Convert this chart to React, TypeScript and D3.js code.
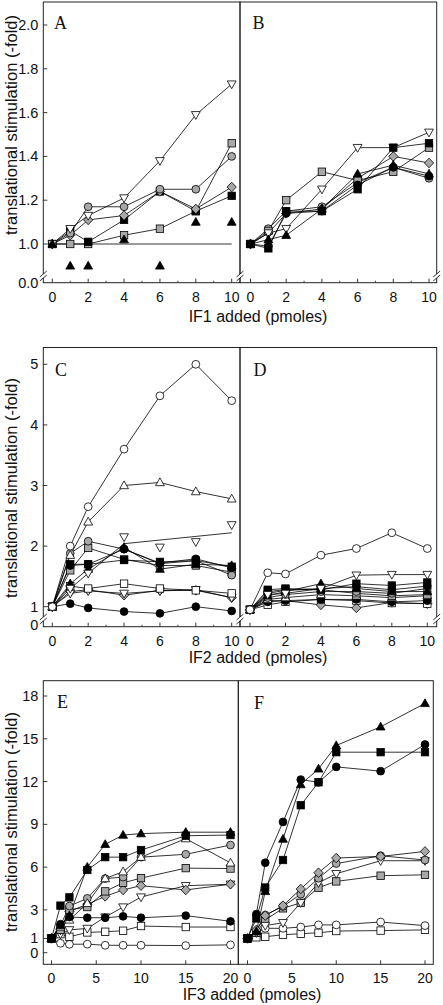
import React from 'react';
import * as d3 from 'd3';

// ---------- DATA ----------
const xIF12 = [0, 1, 2, 4, 6, 8, 10];
const xIF3 = [0, 1, 2, 4, 6, 8, 10, 15, 20];

const ticksIF12 = [0, 2, 4, 6, 8, 10];
const ticksIF3 = [0, 5, 10, 15, 20];
const yTicksRow1 = [1.0, 1.2, 1.4, 1.6, 1.8, 2.0];
const yTicksRow2 = [1, 2, 3, 4, 5];
const yTicksRow3 = [0, 1, 3, 6, 9, 12, 15, 18];

// Panel A (IF1)
const aInvTriW = [1.0, 1.07, 1.13, 1.21, 1.38, 1.59, 1.73];
const aCircG = [1.0, 1.05, 1.17, 1.17, 1.25, 1.25, 1.40];
const aDiaG = [1.0, 1.04, 1.11, 1.13, 1.24, 1.16, 1.26];
const aSqB = [1.0, 1.06, 1.01, 1.11, 1.24, 1.15, 1.22];
const aSqG = [1.0, 1.0, 1.0, 1.04, 1.07, 1.15, 1.46];
const aTriB = [1.0, 0.9, 0.9, 1.02, 0.9, 1.10, 1.10];
const aBaseline = [1.0, 1.0];
const aBaselineX = [0, 10];

// Panel B (IF1)
const bInvTriW = [1.0, 1.05, 1.07, 1.25, 1.44, 1.44, 1.51];
const bSqG = [1.0, 1.06, 1.20, 1.33, 1.29, 1.33, 1.44];
const bSqB = [1.0, 0.98, 1.15, 1.15, 1.25, 1.44, 1.46];
const bDiaG = [1.0, 1.05, 1.14, 1.16, 1.30, 1.40, 1.37];
const bCircG = [1.0, 1.07, 1.15, 1.17, 1.28, 1.35, 1.30];
const bCircB = [1.0, 0.99, 1.14, 1.15, 1.27, 1.35, 1.31];
const bTriB = [1.0, 1.02, 1.04, 1.16, 1.32, 1.36, 1.32];

// Panel C (IF2)
const cCircW = [1, 2.0, 2.65, 3.6, 4.48, 5.0, 4.4];
const cTriW = [1, 1.85, 2.4, 3.0, 3.05, 2.9, 2.78];
const cInvTriW = [1, 1.3, 1.55, 2.15, 1.98, 2.07, 2.35];
const cInvTriLineX = [0, 1, 2, 4, 10];
const cInvTriLineY = [1, 1.3, 1.55, 2.04, 2.22];
const cCircG = [1, 1.88, 2.08, 1.95, 1.71, 1.76, 1.52];
const cSqG = [1, 1.6, 1.97, 1.78, 1.68, 1.68, 1.57];
const cSqB = [1, 1.7, 1.7, 1.77, 1.74, 1.76, 1.66];
const cCircB1 = [1, 1.68, 1.7, 1.95, 1.72, 1.79, 1.64];
const cTriB = [1, 1.38, 1.62, 1.98, 1.62, 1.7, 1.68];
const cSqW = [1, 1.34, 1.3, 1.38, 1.3, 1.27, 1.22];
const cDiaG = [1, 1.25, 1.28, 1.19, 1.27, 1.27, 1.15];
const cInvTriW2 = [1, 1.22, 1.26, 1.22, 1.26, 1.28, 1.15];
const cCircB2 = [1, 1.05, 0.98, 0.92, 0.89, 1.0, 0.93];

// Panel D (IF2)
const dCircW = [0.95, 1.56, 1.54, 1.85, 1.96, 2.22, 1.96];
const dInvTriW = [0.95, 1.2, 1.22, 1.3, 1.52, 1.53, 1.53];
const dSqB = [0.95, 1.28, 1.3, 1.28, 1.38, 1.35, 1.4];
const dCircB = [0.95, 1.22, 1.27, 1.3, 1.33, 1.28, 1.34];
const dTriB = [0.95, 1.18, 1.25, 1.38, 1.3, 1.25, 1.25];
const dCircG = [0.95, 1.15, 1.2, 1.25, 1.25, 1.22, 1.3];
const dSqG = [0.95, 1.25, 1.28, 1.28, 1.22, 1.18, 1.2];
const dTriW = [0.95, 1.12, 1.15, 1.2, 1.18, 1.15, 1.18];
const dCircB2 = [0.95, 1.08, 1.1, 1.12, 1.12, 1.08, 1.1];
const dSqW = [0.95, 1.03, 1.08, 1.12, 1.1, 1.06, 1.05];
const dDiaG = [0.95, 1.1, 1.1, 1.03, 0.98, 1.07, 1.05];

// Panel E (IF3)
const eTriB = [1, 1.9, 2.6, 6.0, 7.6, 8.25, 8.35, 8.45, 8.45];
const eSqB = [1, 3.3, 3.88, 5.8, 6.7, 6.7, 7.2, 8.2, 8.25];
const eCircB = [1, 2.0, 2.5, 2.45, 2.45, 2.55, 2.45, 2.6, 2.2];
const eTriW = [1, 1.8, 2.3, 3.46, 5.2, 5.68, 6.7, 8.0, 6.3];
const eCircG = [1, 1.9, 3.27, 3.81, 5.2, 5.3, 6.7, 6.9, 7.55];
const eSqG = [1, 1.6, 3.0, 3.2, 4.3, 4.9, 5.23, 5.93, 5.9];
const eDiaG = [1, 1.6, 2.9, 3.4, 3.95, 4.4, 4.7, 4.4, 4.8];
const eInvTriW = [1, 1.3, 1.6, 1.7, 2.5, 3.2, 3.9, 4.7, 4.8];
const eSqW = [1, 1.3, 1.12, 1.42, 1.47, 1.54, 1.87, 1.8, 1.8];
const eCircW = [1, 0.66, 0.59, 0.6, 0.52, 0.52, 0.52, 0.5, 0.55];

// Panel F (IF3)
const fTriB = [1, 1.5, 4.3, 7.97, 11.79, 12.89, 14.53, 15.84, 17.48];
const fCircB = [1, 2.71, 6.31, 9.17, 12.14, 11.95, 13.03, 12.73, 14.6];
const fSqB = [1, 2.4, 4.57, 6.5, 10.34, 11.95, 14.06, 14.06, 14.06];
const fDiaG = [1, 1.6, 2.6, 3.3, 4.47, 5.61, 6.64, 6.75, 7.1];
const fCircG = [1, 1.5, 2.64, 3.25, 4.1, 5.22, 6.25, 6.8, 6.5];
const fInvTriW = [1, 1.4, 1.9, 2.1, 3.5, 4.9, 5.54, 6.45, 6.45];
const fSqG = [1, 1.4, 2.3, 3.11, 3.5, 4.56, 5.0, 5.4, 5.46];
const fCircW = [1, 1.4, 1.71, 1.71, 1.8, 1.95, 1.95, 2.15, 1.9];
const fSqW = [1, 1.08, 1.12, 1.26, 1.33, 1.4, 1.52, 1.55, 1.6];

// ---------- TYPES / HELPERS ----------
type Shape = 'circle' | 'square' | 'triUp' | 'triDown' | 'diamond';
type Fill = 'w' | 'b' | 'g';
interface Series {
  ys: number[];
  shape: Shape;
  fill: Fill;
  line?: boolean;
  lineX?: number[];
  lineY?: number[];
}

const FILLS: Record<Fill, string> = { w: '#ffffff', b: '#000000', g: '#a8a8a8' };
const SANS = 'Arial, "Liberation Sans", Helvetica, sans-serif';
const SERIF = '"Times New Roman", "Liberation Serif", serif';

function Marker({ shape, fill, x, y }: { shape: Shape; fill: Fill; x: number; y: number }) {
  const f = FILLS[fill];
  const common = { fill: f, stroke: '#000', strokeWidth: 0.8 };
  if (shape === 'circle') return <circle cx={x} cy={y} r={3.9} {...common} />;
  if (shape === 'square') return <rect x={x - 3.7} y={y - 3.7} width={7.4} height={7.4} {...common} />;
  let pts: [number, number][] = [];
  if (shape === 'triUp') pts = [[0, -4.6], [4.4, 3.2], [-4.4, 3.2]];
  if (shape === 'triDown') pts = [[0, 4.6], [4.4, -3.2], [-4.4, -3.2]];
  if (shape === 'diamond') pts = [[0, -4.8], [4.6, 0], [0, 4.8], [-4.6, 0]];
  return <polygon points={pts.map(([a, b]) => `${x + a},${y + b}`).join(' ')} {...common} />;
}

function BreakMark({ x, y }: { x: number; y: number }) {
  return (
    <g>
      <rect x={x - 2} y={y - 1} width={4} height={4} fill="#fff" />
      <line x1={x - 3.5} y1={y + 2} x2={x + 3.5} y2={y - 4} stroke="#000" strokeWidth={0.8} />
      <line x1={x - 3.5} y1={y + 6} x2={x + 3.5} y2={y} stroke="#000" strokeWidth={0.8} />
    </g>
  );
}

interface PanelProps {
  left: number;
  right: number;
  top: number;
  bottom: number;
  x0: number;
  x1: number;
  xMax: number;
  xs: number[];
  xTicks: number[];
  xMinor: number[];
  yScale: d3.ScaleLinear<number, number>;
  series: Series[];
  letter: string;
  lx: number;
  ly: number;
  extra?: React.ReactNode;
}

function Panel(p: PanelProps) {
  const xScale = d3.scaleLinear().domain([0, p.xMax]).range([p.x0, p.x1]);
  const lineGen = d3
    .line<[number, number]>()
    .x((d) => xScale(d[0]))
    .y((d) => p.yScale(d[1]));
  return (
    <g>
      <rect
        x={p.left}
        y={p.top}
        width={p.right - p.left}
        height={p.bottom - p.top}
        fill="none"
        stroke="#222"
        strokeWidth={1}
      />
      {p.xTicks.map((t) => (
        <g key={'xt' + t}>
          <line x1={xScale(t)} x2={xScale(t)} y1={p.bottom} y2={p.bottom - 4} stroke="#222" strokeWidth={0.9} />
          <text
            x={xScale(t)}
            y={p.bottom + 19}
            textAnchor="middle"
            fontFamily={SANS}
            fontSize={14}
            fill="#111"
          >
            {t}
          </text>
        </g>
      ))}
      {p.xMinor.map((t) => (
        <line key={'xm' + t} x1={xScale(t)} x2={xScale(t)} y1={p.bottom} y2={p.bottom - 2} stroke="#222" strokeWidth={0.8} />
      ))}
      {p.extra}
      {p.series.map((s, i) => {
        if (s.line === false) return null;
        const pts: [number, number][] = s.lineX
          ? s.lineX.map((xv, j) => [xv, s.lineY![j]])
          : p.xs.map((xv, j) => [xv, s.ys[j]]);
        return <path key={'l' + i} d={lineGen(pts) || ''} fill="none" stroke="#000" strokeWidth={0.8} />;
      })}
      {p.series.map((s, i) =>
        p.xs.map((xv, j) => (
          <Marker key={'m' + i + '-' + j} shape={s.shape} fill={s.fill} x={xScale(xv)} y={p.yScale(s.ys[j])} />
        ))
      )}
      <text x={p.lx} y={p.ly} fontFamily={SERIF} fontSize={18} fill="#111">
        {p.letter}
      </text>
    </g>
  );
}

function YAxis({
  x,
  ticks,
  scale,
  fmt,
  zeroY,
  zeroLabel,
}: {
  x: number;
  ticks: number[];
  scale: d3.ScaleLinear<number, number>;
  fmt: (v: number) => string;
  zeroY?: number;
  zeroLabel?: string;
}) {
  return (
    <g>
      {ticks.map((t) => (
        <g key={'yt' + t}>
          <line x1={x} x2={x + 4} y1={scale(t)} y2={scale(t)} stroke="#222" strokeWidth={0.9} />
          <text x={x - 5} y={scale(t) + 5} textAnchor="end" fontFamily={SANS} fontSize={14.5} fill="#111">
            {fmt(t)}
          </text>
        </g>
      ))}
      {zeroY !== undefined && (
        <text x={x - 5} y={zeroY + 5} textAnchor="end" fontFamily={SANS} fontSize={14.5} fill="#111">
          {zeroLabel}
        </text>
      )}
    </g>
  );
}

function YTitle({ cy }: { cy: number }) {
  return (
    <text
      transform={`translate(17,${cy}) rotate(-90)`}
      textAnchor="middle"
      fontFamily={SANS}
      fontSize={16.5}
      fill="#111"
    >
      translational stimulation (-fold)
    </text>
  );
}

export default function App() {
  const L = 43.3;
  const M = 240;
  const R = 436.7;

  // Row 1
  const r1Top = 2, r1Bot = 282.7;
  const y1 = d3.scaleLinear().domain([1, 2]).range([244, 25]);
  // Row 2
  const r2Top = 347.5, r2Bot = 626.7;
  const y2 = d3.scaleLinear().domain([1, 5]).range([606.7, 364.3]);
  // Row 3
  const r3Top = 680.7, r3Bot = 964.3, M3 = 238.3, R3 = 433.3;
  const y3 = d3.scaleLinear().domain([0, 18]).range([952.7, 696]);

  const minor12 = [1, 3, 5, 7, 9];
  const minor3: number[] = [];

  const seriesA: Series[] = [
    { ys: aSqG, shape: 'square', fill: 'g' },
    { ys: aSqB, shape: 'square', fill: 'b' },
    { ys: aDiaG, shape: 'diamond', fill: 'g' },
    { ys: aCircG, shape: 'circle', fill: 'g' },
    { ys: aInvTriW, shape: 'triDown', fill: 'w' },
    { ys: aTriB, shape: 'triUp', fill: 'b', line: false },
  ];
  const seriesB: Series[] = [
    { ys: bCircG, shape: 'circle', fill: 'g' },
    { ys: bDiaG, shape: 'diamond', fill: 'g' },
    { ys: bSqG, shape: 'square', fill: 'g' },
    { ys: bInvTriW, shape: 'triDown', fill: 'w' },
    { ys: bCircB, shape: 'circle', fill: 'b' },
    { ys: bTriB, shape: 'triUp', fill: 'b' },
    { ys: bSqB, shape: 'square', fill: 'b' },
  ];
  const seriesC: Series[] = [
    { ys: cCircB2, shape: 'circle', fill: 'b' },
    { ys: cDiaG, shape: 'diamond', fill: 'g' },
    { ys: cInvTriW2, shape: 'triDown', fill: 'w' },
    { ys: cSqW, shape: 'square', fill: 'w' },
    { ys: cSqG, shape: 'square', fill: 'g' },
    { ys: cCircG, shape: 'circle', fill: 'g' },
    { ys: cTriB, shape: 'triUp', fill: 'b' },
    { ys: cSqB, shape: 'square', fill: 'b' },
    { ys: cCircB1, shape: 'circle', fill: 'b' },
    { ys: cInvTriW, shape: 'triDown', fill: 'w', lineX: cInvTriLineX, lineY: cInvTriLineY },
    { ys: cTriW, shape: 'triUp', fill: 'w' },
    { ys: cCircW, shape: 'circle', fill: 'w' },
  ];
  const seriesD: Series[] = [
    { ys: dDiaG, shape: 'diamond', fill: 'g' },
    { ys: dSqW, shape: 'square', fill: 'w' },
    { ys: dCircB2, shape: 'circle', fill: 'b' },
    { ys: dTriW, shape: 'triUp', fill: 'w' },
    { ys: dSqG, shape: 'square', fill: 'g' },
    { ys: dCircG, shape: 'circle', fill: 'g' },
    { ys: dTriB, shape: 'triUp', fill: 'b' },
    { ys: dCircB, shape: 'circle', fill: 'b' },
    { ys: dSqB, shape: 'square', fill: 'b' },
    { ys: dInvTriW, shape: 'triDown', fill: 'w' },
    { ys: dCircW, shape: 'circle', fill: 'w' },
  ];
  const seriesE: Series[] = [
    { ys: eCircW, shape: 'circle', fill: 'w' },
    { ys: eSqW, shape: 'square', fill: 'w' },
    { ys: eInvTriW, shape: 'triDown', fill: 'w' },
    { ys: eDiaG, shape: 'diamond', fill: 'g' },
    { ys: eSqG, shape: 'square', fill: 'g' },
    { ys: eCircG, shape: 'circle', fill: 'g' },
    { ys: eTriW, shape: 'triUp', fill: 'w' },
    { ys: eCircB, shape: 'circle', fill: 'b' },
    { ys: eSqB, shape: 'square', fill: 'b' },
    { ys: eTriB, shape: 'triUp', fill: 'b' },
  ];
  const seriesF: Series[] = [
    { ys: fSqW, shape: 'square', fill: 'w' },
    { ys: fCircW, shape: 'circle', fill: 'w' },
    { ys: fSqG, shape: 'square', fill: 'g' },
    { ys: fInvTriW, shape: 'triDown', fill: 'w' },
    { ys: fCircG, shape: 'circle', fill: 'g' },
    { ys: fDiaG, shape: 'diamond', fill: 'g' },
    { ys: fSqB, shape: 'square', fill: 'b' },
    { ys: fCircB, shape: 'circle', fill: 'b' },
    { ys: fTriB, shape: 'triUp', fill: 'b' },
  ];

  const xA = d3.scaleLinear().domain([0, 10]).range([52.3, 231.7]);
  const baselinePath = d3
    .line<number>()
    .x((_, i) => xA(aBaselineX[i]))
    .y((d) => y1(d))(aBaseline);

  return (
    <svg
      width={443}
      height={1005}
      style={{ position: 'absolute', left: 0, top: 0, background: '#fff' }}
      xmlns="http://www.w3.org/2000/svg"
    >
      <rect x={0} y={0} width={443} height={1005} fill="#fff" />

      {/* Row 1 */}
      <Panel
        left={L} right={M} top={r1Top} bottom={r1Bot}
        x0={52.3} x1={231.7} xMax={10} xs={xIF12} xTicks={ticksIF12} xMinor={minor12}
        yScale={y1} series={seriesA} letter="A" lx={54} ly={29}
        extra={<path d={baselinePath || ''} stroke="#000" strokeWidth={0.8} fill="none" />}
      />
      <Panel
        left={M} right={R} top={r1Top} bottom={r1Bot}
        x0={250.5} x1={429} xMax={10} xs={xIF12} xTicks={ticksIF12} xMinor={minor12}
        yScale={y1} series={seriesB} letter="B" lx={252.5} ly={29}
      />
      <YAxis x={L} ticks={yTicksRow1} scale={y1} fmt={(v) => v.toFixed(1)} zeroY={r1Bot} zeroLabel="0.0" />
      <BreakMark x={L} y={275} />
      <BreakMark x={M} y={275} />
      <BreakMark x={R} y={275} />
      <YTitle cy={125} />
      <text x={258} y={322} textAnchor="middle" fontFamily={SANS} fontSize={16} fill="#111">
        IF1 added (pmoles)
      </text>

      {/* Row 2 */}
      <Panel
        left={L} right={M} top={r2Top} bottom={r2Bot}
        x0={52.3} x1={231.7} xMax={10} xs={xIF12} xTicks={ticksIF12} xMinor={minor12}
        yScale={y2} series={seriesC} letter="C" lx={55} ly={376}
      />
      <Panel
        left={M} right={R} top={r2Top} bottom={r2Bot}
        x0={250} x1={427.3} xMax={10} xs={xIF12} xTicks={ticksIF12} xMinor={minor12}
        yScale={y2} series={seriesD} letter="D" lx={253.5} ly={376}
      />
      <YAxis x={L} ticks={yTicksRow2} scale={y2} fmt={(v) => String(v)} zeroY={r2Bot - 1.5} zeroLabel="0" />
      <BreakMark x={L} y={618} />
      <BreakMark x={M} y={618} />
      <BreakMark x={R} y={618} />
      <YTitle cy={488} />
      <text x={258} y={663} textAnchor="middle" fontFamily={SANS} fontSize={16} fill="#111">
        IF2 added (pmoles)
      </text>

      {/* Row 3 */}
      <Panel
        left={L} right={M3} top={r3Top} bottom={r3Bot}
        x0={51.5} x1={230.5} xMax={20} xs={xIF3} xTicks={ticksIF3} xMinor={minor3}
        yScale={y3} series={seriesE} letter="E" lx={57} ly={708}
      />
      <Panel
        left={M3} right={R3} top={r3Top} bottom={r3Bot}
        x0={247.5} x1={425} xMax={20} xs={xIF3} xTicks={ticksIF3} xMinor={minor3}
        yScale={y3} series={seriesF} letter="F" lx={254} ly={709}
      />
      <YAxis x={L} ticks={yTicksRow3} scale={y3} fmt={(v) => String(v)} />
      <YTitle cy={822} />
      <text x={252} y={1000} textAnchor="middle" fontFamily={SANS} fontSize={16} fill="#111">
        IF3 added (pmoles)
      </text>
    </svg>
  );
}
